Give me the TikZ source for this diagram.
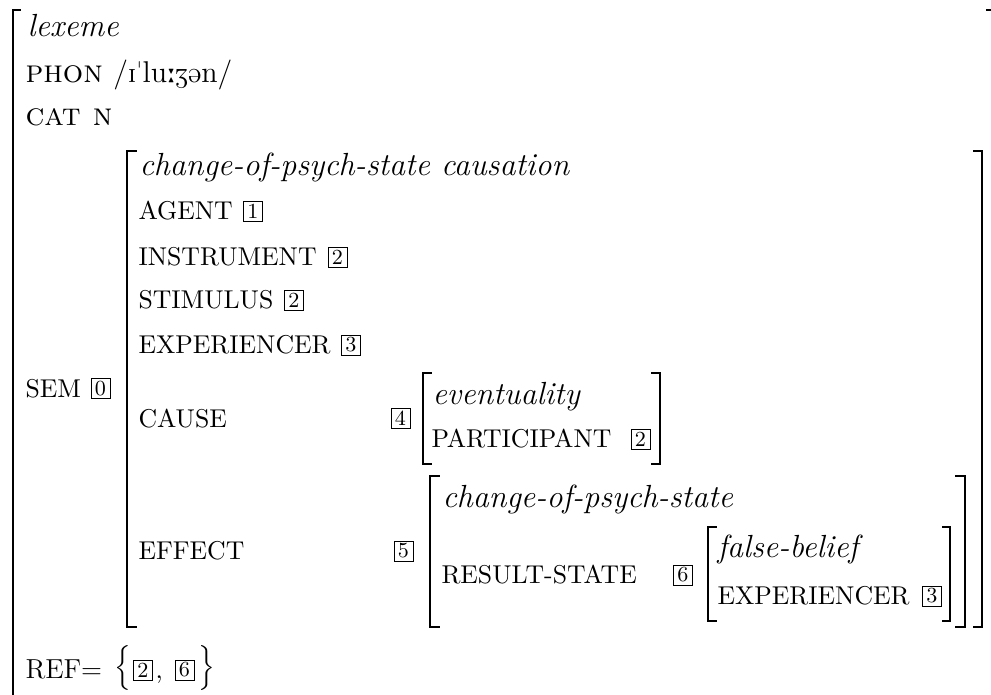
\documentclass[tikz,border=0pt]{standalone}
\usepackage{tipa}
\begin{document}
\begin{tikzpicture}[x=0.4pt,y=-0.4pt,
  feat/.style={anchor=base west, inner sep=0pt, font=\fontsize{10.3}{12}\selectfont},
  top/.style={anchor=base west, inner sep=0pt, font=\fontsize{12.8}{14}\selectfont},
  typ/.style={anchor=base west, inner sep=0pt, font=\fontsize{12.8}{14}\selectfont\itshape},
  tag/.style={draw, line width=0.4pt, inner sep=0pt, minimum width=7.6pt, minimum height=8pt, font=\fontsize{8.6}{9}\selectfont},
  brk/.style={line width=0.8pt, line join=miter, line cap=rect},
  brace/.style={inner sep=0pt, font=\fontsize{11.5}{13}\selectfont}]
\useasboundingbox (0,0) rectangle (991,694);
% outer AVM
\draw[brk] (20,10) -- (13,10) -- (13,705);
\draw[brk] (987,10) -- (996,10);
\node[typ] (lex) at (27,36) {lexeme};
\node[top] (phon) at (25,82) {\textsc{phon} \textipa{/I"lu:Z@n/}};
\node[top] (cat) at (25,125) {\textsc{cat n}};
\node[feat] (sem) at (25,397) {SEM};
\node[tag] (t0) at (100.5,388.5) {0};
% SEM value
\draw[brk] (136,151) -- (127,151) -- (127,627) -- (136,627);
\draw[brk] (974,151) -- (982,151) -- (982,627) -- (974,627);
\node[typ] (cpsc) at (139,175) {change-of-psych-state causation};
\node[feat] (agent) at (138,219) {AGENT};
\node[tag] (t1) at (253,211) {1};
\node[feat] (instr) at (138,265) {INSTRUMENT};
\node[tag] (t2a) at (337.5,257) {2};
\node[feat] (stim) at (138,308) {STIMULUS};
\node[tag] (t2b) at (294,300) {2};
\node[feat] (exp) at (138,353) {EXPERIENCER};
\node[tag] (t3a) at (351,345) {3};
\node[feat] (cause) at (138,427) {CAUSE};
\node[tag] (t4) at (400.5,418) {4};
% CAUSE value
\draw[brk] (431,373) -- (423,373) -- (423,464) -- (431,464);
\draw[brk] (652,373) -- (660,373) -- (660,464) -- (652,464);
\node[typ] (ev) at (432,404) {eventuality};
\node[feat] (part) at (431,447) {PARTICIPANT};
\node[tag] (t2c) at (640.5,439) {2};
\node[feat] (eff) at (138,559) {EFFECT};
\node[tag] (t5) at (403.5,551) {5};
% EFFECT value
\draw[brk] (439,476) -- (430,476) -- (430,627) -- (439,627);
\draw[brk] (956,476) -- (965,476) -- (965,627) -- (956,627);
\node[typ] (cps) at (442,507) {change-of-psych-state};
\node[feat] (res) at (441,583) {RESULT-STATE};
\node[tag] (t6) at (683,575) {6};
% RESULT-STATE value
\draw[brk] (716,527) -- (708,527) -- (708,621) -- (716,621);
\draw[brk] (943,527) -- (950,527) -- (950,621) -- (943,621);
\node[typ] (fb) at (717,557) {false-belief};
\node[feat] (exp2) at (717,604) {EXPERIENCER};
\node[tag] (t3b) at (932,596) {3};
% REF
\node[feat, font=\fontsize{11}{13}\selectfont] (ref) at (25,678) {REF=};
\node[brace] (lb) at (123,667.5) {$\Big\{$};
\node[tag] (r2) at (143,670) {2};
\node[feat] (comma) at (155,678) {,};
\node[tag] (r6) at (184.5,670) {6};
\node[brace] (rb) at (207,667.5) {$\Big\}$};
\end{tikzpicture}
\end{document}
